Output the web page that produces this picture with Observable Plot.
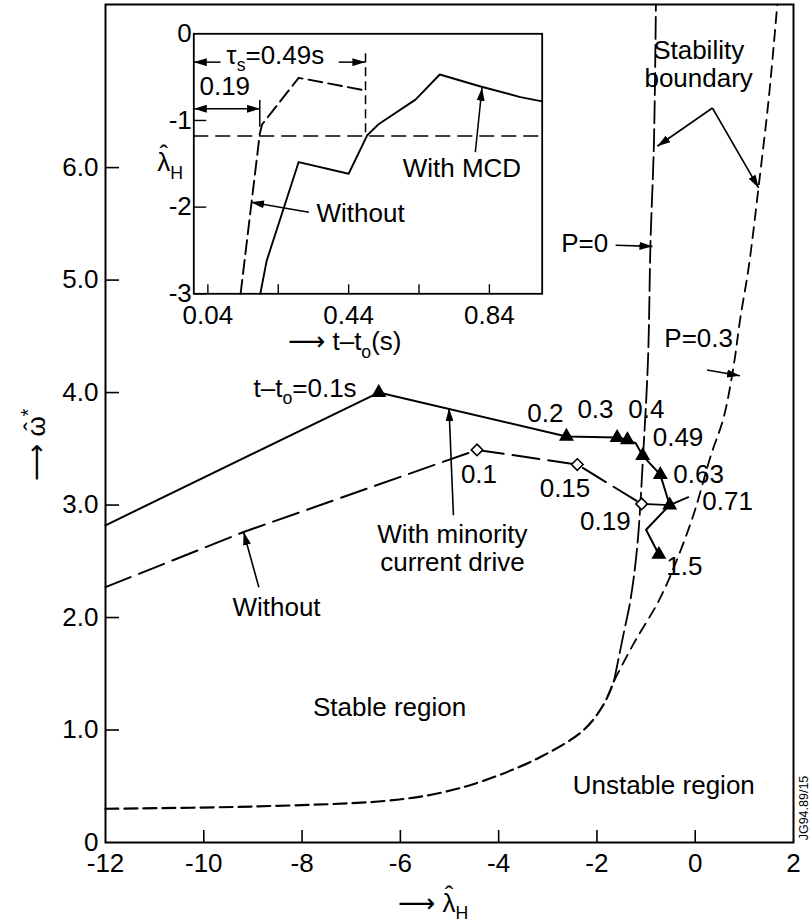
<!DOCTYPE html>
<html><head><meta charset="utf-8">
<script src="https://cdn.jsdelivr.net/npm/d3@7"></script>
<script src="https://cdn.jsdelivr.net/npm/@observablehq/plot@0.6"></script>
<style>
html,body{margin:0;padding:0;background:#fff}
#wrap{position:relative;width:811px;height:922px;overflow:hidden}
#wrap svg{font-family:"Liberation Sans",Arial,Helvetica,sans-serif}
</style></head><body><div id="wrap"></div>
<script>
// ---------- main chart: axes ----------
const xTicks = [-12, -10, -8, -6, -4, -2, 0, 2];
const yTicks = [0, 1, 2, 3, 4, 5, 6];
const yTickLabels = ["0", "1.0", "2.0", "3.0", "4.0", "5.0", "6.0"];

// ---------- main chart: trajectories ----------
const mcdLambda = [-12, -6.44, -2.62, -1.59, -1.38, -1.21, -1.07, -0.71, -0.52, -1.00, -0.74];
const mcdOmega  = [2.82, 4.00, 3.61, 3.60, 3.58, 3.55, 3.44, 3.27, 3.00, 2.78, 2.56];
const mcdMarked = [false, true, true, true, true, false, true, true, true, false, true];

const woLambda = [-12, -9.19, -4.44, -2.40, -1.09];
const woOmega  = [2.27, 2.76, 3.49, 3.36, 3.01];
const woMarked = [false, false, true, true, true];

const linkLambda = [-1.09, -0.52, -0.14];
const linkOmega  = [3.01, 3.00, 3.07];

// ---------- main chart: stability boundaries ----------
const baseLambda = [-12, -9.0, -6.3, -5.2, -4.30, -3.15, -2.27, -1.86, -1.65];
const baseOmega  = [0.30, 0.32, 0.37, 0.44, 0.55, 0.76, 1.00, 1.23, 1.44];
const p0Lambda = [-1.65, -1.46, -1.32, -1.18, -1.05, -0.96, -0.91, -0.84, -0.80];
const p0Omega  = [1.44, 1.85, 2.15, 2.63, 3.52, 4.30, 5.33, 6.22, 7.45];
const p03Lambda = [-1.65, -1.25, -0.74, -0.43, -0.03, 0.31, 0.58, 0.79, 0.91, 1.09, 1.29, 1.50, 1.67];
const p03Omega  = [1.44, 1.77, 2.15, 2.45, 2.92, 3.43, 3.78, 4.26, 4.64, 5.12, 5.83, 6.63, 7.45];

// ---------- main chart: annotations ----------
const ptLabelText   = ["0.2", "0.3", "0.4", "0.49", "0.63", "0.71", "1.5", "0.1", "0.15", "0.19"];
const ptLabelLambda = [-3.05, -2.03, -0.995, -0.35, 0.07, 0.66, -0.22, -4.40, -2.65, -1.83];
const ptLabelOmega  = [3.81, 3.85, 3.85, 3.60, 3.27, 3.03, 2.45, 3.27, 3.15, 2.85];

const noteText   = ["With minority\ncurrent drive", "Without", "Stable region", "Unstable region", "Stability\nboundary", "P=0", "P=0.3"];
const noteLambda = [-4.94, -8.52, -6.22, -0.64, 0.07, -2.25, 0.07];
const noteOmega  = [2.62, 2.09, 1.20, 0.51, 6.92, 5.33, 4.48];

const arrX1 = [0.35, 0.35, -1.62, 0.24, -4.92, -8.88];
const arrY1 = [6.53, 6.53, 5.31, 4.20, 2.91, 2.27];
const arrX2 = [-0.77, 1.29, -0.87, 0.91, -5.01, -9.19];
const arrY2 = [6.19, 5.82, 5.30, 4.15, 3.86, 2.76];

const startLabelLambda = -6.88, startLabelOmega = 3.96;

// ---------- inset ----------
const insetXTicks = [0.04, 0.24, 0.44, 0.64, 0.84];
const insetXLabels = ["0.04", "", "0.44", "", "0.84"];
const insetYTicks = [0, -1, -2, -3];
const insetYLabels = ["0", "-1", "-2", "-3"];

const inWoT = [0.133, 0.1875, 0.194, 0.298, 0.488];
const inWoL = [-3.0, -1.154, -1.047, -0.508, -0.654];
const inMcdT = [0.189, 0.207, 0.298, 0.440, 0.493, 0.526, 0.630, 0.699, 0.815, 0.928, 0.99];
const inMcdL = [-3.0, -2.62, -1.48, -1.615, -1.17, -1.04, -0.76, -0.47, -0.608, -0.73, -0.78];
const thresholdL = -1.18;

const tauT = 0.488, tauTop = -0.23;
const t19 = 0.1875, t19Top = -0.77, t19Bottom = -1.078;

const inArrX1 = [0.076, 0.412, 0.80, 0.327];
const inArrY1 = [-0.327, -0.327, -1.366, -2.058];
const inArrX2 = [0, 0.4875, 0.819, 0.163];
const inArrY2 = [-0.327, -0.327, -0.623, -1.943];
const dblX1 = [0], dblX2 = [0.1875], dblY = [-0.865];

const inNoteText = ["0.19", "With MCD", "Without"];
const inNoteT = [0.088, 0.762, 0.474];
const inNoteL = [-0.606, -1.56, -2.07];
const tauLabelT = 0.233, tauLabelL = -0.35;

// ---------- build main ----------
const W = 811, H = 922, ML = 105, MR = 18, MT = 4, MB = 80;
const PW = W - ML - MR, PH = H - MT - MB;
const idx = n => Array.from({length: n}, (_, i) => i);
const FS = 26;

const main = Plot.plot({
  width: W, height: H,
  marginLeft: ML, marginRight: MR, marginTop: MT, marginBottom: MB,
  style: {background: "white", color: "black", fontSize: FS + "px", fontFamily: "'Liberation Sans', Arial, sans-serif", overflow: "visible"},
  x: {domain: [-12, 2]},
  y: {domain: [0, 7.45]},
  marks: [
    Plot.axisX({ticks: xTicks, tickSize: 0, tickPadding: 11, tickFormat: d => String(d), label: null}),
    Plot.axisY({ticks: yTicks, tickSize: 0, tickPadding: 7, tickFormat: d => yTickLabels[yTicks.indexOf(d)], label: null}),
    Plot.tickX(xTicks.slice(1, -1), {x: d => d, insetTop: PH - 12, strokeWidth: 1.6}),
    Plot.tickY(yTicks.slice(1), {y: d => d, insetRight: PW - 14, strokeWidth: 1.6}),
    // stability boundaries
    Plot.line(idx(baseLambda.length), {x: baseLambda, y: baseOmega, curve: "catmull-rom", strokeWidth: 2.2, strokeDasharray: "13,6"}),
    Plot.line(idx(p0Lambda.length), {x: p0Lambda, y: p0Omega, curve: "catmull-rom", strokeWidth: 1.8, strokeDasharray: "22,6"}),
    Plot.line(idx(p03Lambda.length), {x: p03Lambda, y: p03Omega, curve: "catmull-rom", strokeWidth: 1.8, strokeDasharray: "11,7"}),
    // trajectories
    Plot.line(idx(woLambda.length), {x: woLambda, y: woOmega, strokeWidth: 2, strokeDasharray: "27,9"}),
    Plot.line(idx(linkLambda.length), {x: linkLambda, y: linkOmega, strokeWidth: 1.8}),
    Plot.line(idx(mcdLambda.length), {x: mcdLambda, y: mcdOmega, strokeWidth: 2}),
    Plot.dot(idx(woLambda.length).filter(i => woMarked[i]), {x: i => woLambda[i], y: i => woOmega[i], symbol: "diamond2", r: 5.2, fill: "white", stroke: "black", strokeWidth: 1.6}),
    Plot.dot(idx(mcdLambda.length).filter(i => mcdMarked[i]), {x: i => mcdLambda[i], y: i => mcdOmega[i], symbol: "triangle", r: 4.6, fill: "black", stroke: "black"}),
    // annotations
    Plot.link(idx(arrX1.length), {x1: arrX1, y1: arrY1, x2: arrX2, y2: arrY2, strokeWidth: 1.6, className: "ann-arrow"}),
    Plot.text(idx(ptLabelText.length), {x: ptLabelLambda, y: ptLabelOmega, text: ptLabelText, fontSize: FS, lineAnchor: "middle"}),
    Plot.text(idx(noteText.length), {x: noteLambda, y: noteOmega, text: noteText, fontSize: FS, lineAnchor: "middle", lineHeight: 1.07}),
    Plot.frame({strokeWidth: 2})
  ]
});
document.getElementById("wrap").appendChild(main);

// ---------- build inset ----------
const IL = 140, IT = 20;
const iML = 53.3, iMR = 12, iMT = 13.3, iMB = 76.7;
const iW = 413.7, iH = 350;
const iPW = iW - iML - iMR, iPH = iH - iMT - iMB;

const inset = Plot.plot({
  width: iW, height: iH,
  marginLeft: iML, marginRight: iMR, marginTop: iMT, marginBottom: iMB,
  style: {background: "transparent", color: "black", fontSize: FS + "px", fontFamily: "'Liberation Sans', Arial, sans-serif", overflow: "visible"},
  x: {domain: [0, 0.99]},
  y: {domain: [-3, 0]},
  marks: [
    Plot.frame({fill: "white", stroke: "none"}),
    Plot.axisX({ticks: insetXTicks, tickSize: 0, tickPadding: 12, tickFormat: d => insetXLabels[insetXTicks.indexOf(d)], label: null}),
    Plot.axisY({ticks: insetYTicks, tickSize: 0, tickPadding: 2, tickFormat: d => insetYLabels[insetYTicks.indexOf(d)], label: null}),
    Plot.tickX(insetXTicks, {x: d => d, insetTop: iPH - 9, strokeWidth: 1.4}),
    Plot.tickY(insetYTicks.slice(1), {y: d => d, insetRight: iPW - 13, strokeWidth: 1.4}),
    Plot.ruleY([thresholdL], {strokeWidth: 1.5, strokeDasharray: "15,7"}),
    Plot.ruleX([tauT], {y1: tauTop, y2: thresholdL, strokeWidth: 1.5, strokeDasharray: "9,5"}),
    Plot.ruleX([t19], {y1: t19Top, y2: t19Bottom, strokeWidth: 1.5}),
    Plot.line(idx(inWoT.length), {x: inWoT, y: inWoL, strokeWidth: 1.9, strokeDasharray: "14,6"}),
    Plot.line(idx(inMcdT.length), {x: inMcdT, y: inMcdL, strokeWidth: 1.9}),
    Plot.link(idx(inArrX1.length), {x1: inArrX1, y1: inArrY1, x2: inArrX2, y2: inArrY2, strokeWidth: 1.5, className: "in-arrow"}),
    Plot.link(idx(dblX1.length), {x1: dblX1, y1: dblY, x2: dblX2, y2: dblY, strokeWidth: 1.5, className: "in-dbl"}),
    Plot.text(idx(inNoteText.length), {x: inNoteT, y: inNoteL, text: inNoteText, fontSize: FS, lineAnchor: "middle"}),
    Plot.frame({strokeWidth: 1.8})
  ]
});
inset.style.position = "absolute";
inset.style.left = IL + "px";
inset.style.top = IT + "px";
document.getElementById("wrap").appendChild(inset);

// ---------- decorations via d3 ----------
function addMarker(svg, id) {
  const defs = d3.select(svg).append("defs");
  defs.append("marker").attr("id", id).attr("viewBox", "0 0 13 8").attr("refX", 13).attr("refY", 4)
    .attr("markerWidth", 13).attr("markerHeight", 8).attr("markerUnits", "userSpaceOnUse")
    .attr("orient", "auto-start-reverse")
    .append("path").attr("d", "M0,0L13,4L0,8Z").attr("fill", "black");
}
addMarker(main, "ahMain");
addMarker(inset, "ahInset");
d3.select(main).selectAll(".ann-arrow path").attr("marker-end", "url(#ahMain)");
d3.select(inset).selectAll(".in-arrow path").attr("marker-end", "url(#ahInset)");
d3.select(inset).selectAll(".in-dbl path").attr("marker-end", "url(#ahInset)").attr("marker-start", "url(#ahInset)");

// rich text: parts may be sub, sup, have a font, or carry a hat (circumflex) above a character
function rich(svg, x, y, parts, {anchor = "start", size = FS, rotate = 0} = {}) {
  const sel = d3.select(svg);
  const t = sel.append("text").attr("x", x).attr("y", y)
    .attr("text-anchor", anchor).attr("font-size", size).attr("fill", "black");
  if (rotate) t.attr("transform", `rotate(${rotate},${x},${y})`);
  let shift = 0, count = 0;
  const hats = [];
  for (const p of parts) {
    const s = t.append("tspan").text(p.t);
    let target = 0;
    if (p.sub) { s.attr("font-size", size * 0.68); target = size * 0.28; }
    if (p.sup) { s.attr("font-size", size * 0.75); target = -size * 0.38; }
    if (p.font) s.attr("font-family", p.font);
    if (target !== shift) { s.attr("dy", target - shift); shift = target; }
    if (p.hat !== undefined) hats.push({ci: count + p.hat, lift: p.lift || 0});
    count += p.t.length;
  }
  const node = t.node();
  const pos = hats.map(h => {
    const a = node.getStartPositionOfChar(h.ci), b = node.getEndPositionOfChar(h.ci);
    return {x: (a.x + b.x) / 2, y: a.y - h.lift * size};
  });
  for (const p of pos) {
    const hs = t.append("tspan").attr("y", p.y).text("\u02c6");
    const w = hs.node().getComputedTextLength();
    hs.attr("x", p.x - w / 2);
  }
  return t;
}
const sx = main.scale("x"), sy = main.scale("y");
const isx = inset.scale("x"), isy = inset.scale("y");

// t–to=0.1s
rich(main, sx.apply(startLabelLambda), sy.apply(startLabelOmega), [{t: "t\u2013t"}, {t: "o", sub: true}, {t: "=0.1s"}], {anchor: "end"});
// tau_s label
rich(inset, isx.apply(tauLabelT), isy.apply(tauLabelL), [{t: "\u03c4"}, {t: "s", sub: true}, {t: "=0.49s"}], {anchor: "middle"});
// inset y label
rich(inset, iML - 36, iMT + 138, [{t: "\u03bb", hat: 0, lift: 0.3}, {t: "H", sub: true}]);
// inset x label
rich(inset, 148, iMT + iPH + 57, [{t: "\u27f6", font: "DejaVu Sans"}, {t: " t\u2013t"}, {t: "o", sub: true}, {t: "(s)"}]);
// main x label
rich(main, 398, MT + PH + 70, [{t: "\u27f6", font: "DejaVu Sans"}, {t: " \u03bb", hat: 1, lift: 0.3}, {t: "H", sub: true}]);
// main y label
rich(main, 45, 481, [{t: "\u27f6", font: "DejaVu Sans"}, {t: " \u03c9", hat: 1, lift: 0.12}, {t: "*", sup: true}], {rotate: -90});
// figure code
rich(main, 808, 808, [{t: "JG94.89/15"}], {anchor: "middle", size: 12.5, rotate: -90});
</script></body></html>
